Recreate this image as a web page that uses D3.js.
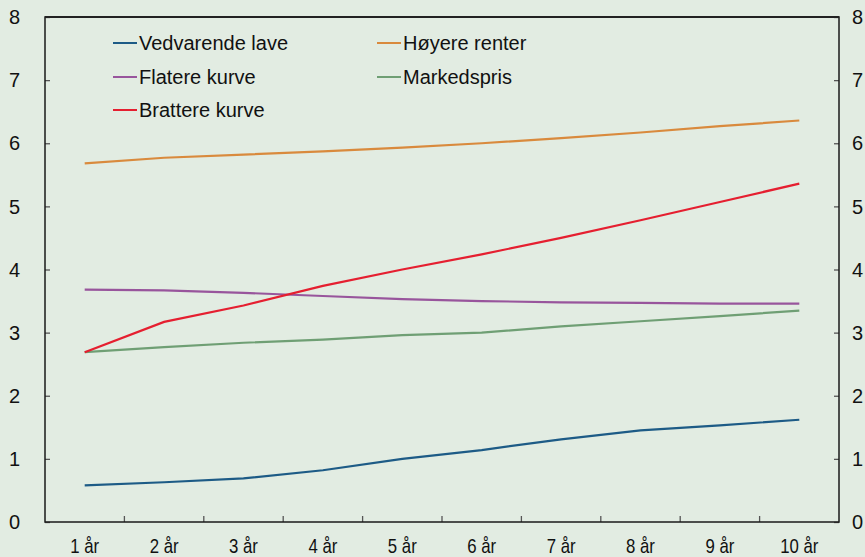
<!DOCTYPE html>
<html>
<head>
<meta charset="utf-8">
<script src="https://cdn.jsdelivr.net/npm/d3@7"></script>
<style>
  html, body { margin: 0; padding: 0; background: #e2ece2; }
  svg { display: block; }
  text { font-family: "Liberation Sans", Arial, sans-serif; fill: #111; }
</style>
</head>
<body>
<svg id="chart" width="865" height="557"></svg>
<script>
// Maturities on the horizontal axis
const categories = ["1 år", "2 år", "3 år", "4 år", "5 år", "6 år", "7 år", "8 år", "9 år", "10 år"];
const yTicks = [0, 1, 2, 3, 4, 5, 6, 7, 8];

// Interest-rate paths (per cent) per scenario
const vedvarendeLave = [0.58, 0.63, 0.69, 0.82, 1.00, 1.14, 1.31, 1.45, 1.53, 1.62];
const hoyereRenter   = [5.68, 5.77, 5.82, 5.87, 5.93, 6.00, 6.08, 6.17, 6.27, 6.36];
const flatereKurve   = [3.68, 3.67, 3.63, 3.58, 3.53, 3.50, 3.48, 3.47, 3.46, 3.46];
const markedspris    = [2.69, 2.77, 2.84, 2.89, 2.96, 3.00, 3.10, 3.18, 3.26, 3.35];
const bratteKurve    = [2.69, 3.17, 3.43, 3.74, 4.00, 4.24, 4.50, 4.78, 5.07, 5.36];

const series = [
  { name: "Vedvarende lave", values: vedvarendeLave, color: "#1d5b86" },
  { name: "Høyere renter",   values: hoyereRenter,   color: "#d98a3d" },
  { name: "Flatere kurve",   values: flatereKurve,   color: "#98559c" },
  { name: "Markedspris",     values: markedspris,    color: "#6f9f74" },
  { name: "Brattere kurve",  values: bratteKurve,    color: "#e51f30" }
];

const svg = d3.select("#chart");
const plotLeft = 45, plotRight = 839, plotTop = 17, plotBottom = 522;

const x = d3.scaleBand().domain(categories).range([plotLeft, plotRight]).paddingInner(0).paddingOuter(0);
const y = d3.scaleLinear().domain([0, 8]).range([plotBottom, plotTop]);

// Left axis: ticks pointing into the plot
const gl = svg.append("g").attr("transform", `translate(${plotLeft},0)`)
  .call(d3.axisRight(y).tickValues(yTicks).tickSize(5).tickFormat(""));
gl.select(".domain").remove();
gl.selectAll(".tick line").attr("stroke", "#555").attr("stroke-width", 1.3);
svg.append("g").selectAll("text").data(yTicks).join("text")
  .attr("x", 20).attr("y", d => y(d)).attr("dy", "0.36em")
  .attr("text-anchor", "end").attr("font-size", 20).text(d => d);

// Right axis
const gr = svg.append("g").attr("transform", `translate(${plotRight},0)`)
  .call(d3.axisLeft(y).tickValues(yTicks).tickSize(5).tickFormat(""));
gr.select(".domain").remove();
gr.selectAll(".tick line").attr("stroke", "#555").attr("stroke-width", 1.3);
svg.append("g").selectAll("text").data(yTicks).join("text")
  .attr("x", 852).attr("y", d => y(d)).attr("dy", "0.36em")
  .attr("text-anchor", "start").attr("font-size", 20).text(d => d);

// Bottom axis: ticks at band boundaries, condensed labels centred in bands
const boundaries = categories.slice(1).map(c => x(c));
svg.append("g").selectAll("line").data(boundaries).join("line")
  .attr("x1", d => d).attr("x2", d => d)
  .attr("y1", plotBottom).attr("y2", plotBottom - 6)
  .attr("stroke", "#555").attr("stroke-width", 1.3);
svg.append("g").selectAll("text").data(categories).join("text")
  .attr("transform", d => `translate(${x(d) + x.bandwidth() / 2},553) scale(0.84,1)`)
  .attr("text-anchor", "middle").attr("font-size", 20)
  .text(d => d);

// Plot frame
svg.append("rect").attr("x", plotLeft).attr("y", plotTop)
  .attr("width", plotRight - plotLeft).attr("height", plotBottom - plotTop)
  .attr("fill", "none").attr("stroke", "#1a1a1a").attr("stroke-width", 1.5);
svg.append("line").attr("x1", plotLeft).attr("x2", plotRight).attr("y1", plotTop).attr("y2", plotTop)
  .attr("stroke", "#222").attr("stroke-width", 2);

// Lines
const line = d3.line()
  .x((d, i) => x(categories[i]) + x.bandwidth() / 2)
  .y(d => y(d));
svg.append("g").selectAll("path").data(series).join("path")
  .attr("d", d => line(d.values))
  .attr("fill", "none").attr("stroke", d => d.color).attr("stroke-width", 2.2);

// Legend
const legendPos = [
  { lx: 113, ly: 43 }, { lx: 377, ly: 43 },
  { lx: 113, ly: 77 }, { lx: 377, ly: 77 },
  { lx: 113, ly: 110 }
];
const leg = svg.append("g").selectAll("g").data(series).join("g")
  .attr("transform", (d, i) => `translate(${legendPos[i].lx},${legendPos[i].ly})`);
leg.append("line").attr("x1", 0).attr("x2", 24).attr("y1", 0).attr("y2", 0)
  .attr("stroke", d => d.color).attr("stroke-width", 2);
leg.append("text").attr("x", 26).attr("y", 0).attr("dy", "0.36em")
  .attr("font-size", 20).text(d => d.name);
</script>
</body>
</html>
